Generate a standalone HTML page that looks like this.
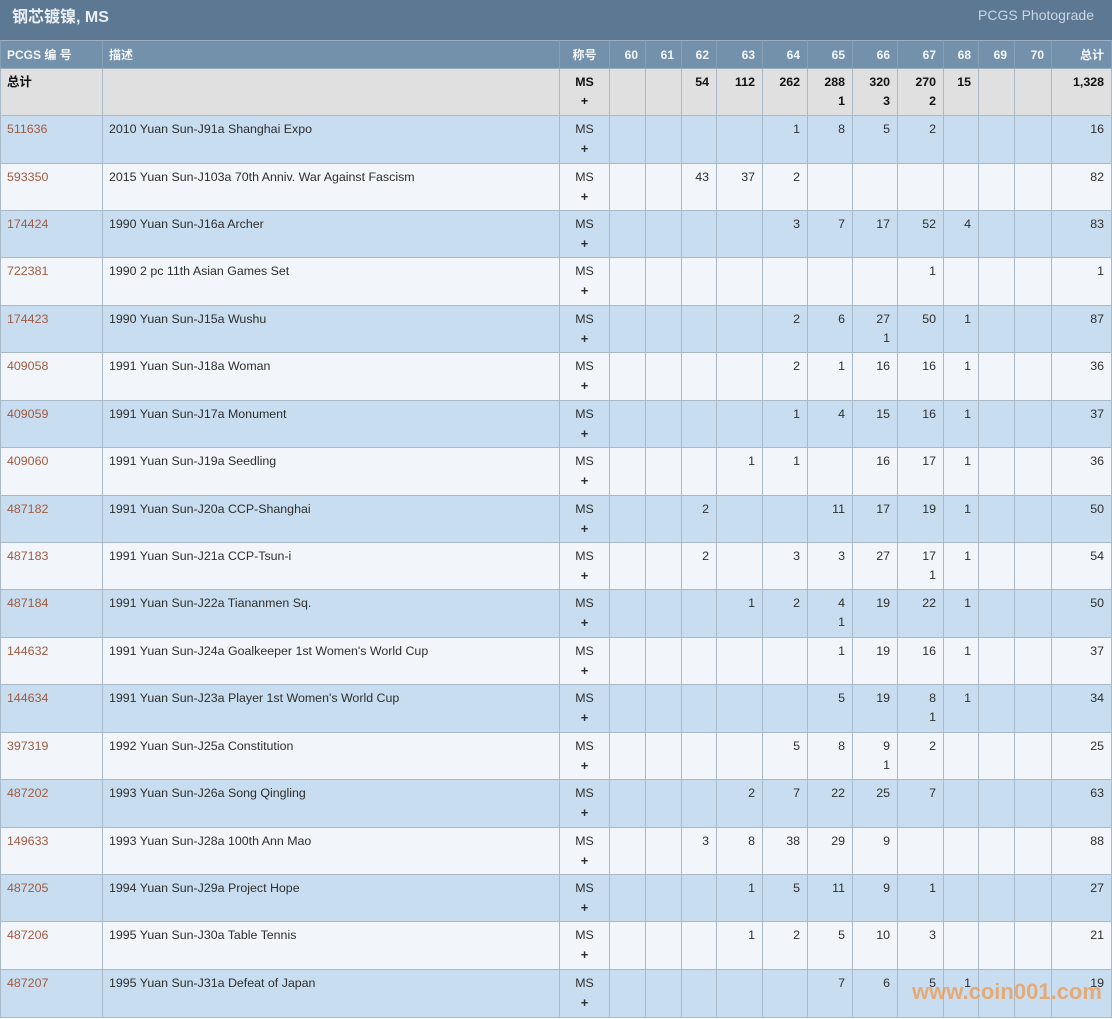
<!DOCTYPE html>
<html><head><meta charset="utf-8">
<style>
html,body{margin:0;padding:0;}
body{width:1112px;height:1019px;overflow:hidden;background:#fff;position:relative;font-family:"Liberation Sans","Noto Sans CJK SC",sans-serif;}
.bar{position:absolute;left:0;top:0;width:1112px;height:40px;background:#5c7893;}
.title{position:absolute;left:12px;top:7px;font-size:16px;font-weight:bold;color:#e9eff5;line-height:22px;}
.pg{position:absolute;right:18px;top:5px;font-size:14px;color:#c9d7e5;line-height:20px;}
table{position:absolute;left:0;top:40px;border-collapse:separate;border-spacing:0;table-layout:fixed;width:1112px;}
td{box-sizing:border-box;border-right:1px solid #aab9c7;border-bottom:1px solid #aab9c7;padding:4px 7px 0 7px;vertical-align:top;line-height:19px;font-size:12.4px;color:#2e2e2e;text-align:right;overflow:hidden;white-space:nowrap;}
td:first-child{border-left:1px solid #aab9c7;text-align:left;padding-left:6px;}
td.d{text-align:left;padding-left:6px;}
td.c{text-align:center;padding-left:2px;padding-right:2px;}
tr.h td{background:#7491ab;color:#f2f6f9;font-weight:bold;font-size:12px;border-top:1px solid #9bb0c3;border-right-color:#86a0b6;border-bottom-color:#9aadbd;padding-top:5px;}
tr.h td:first-child{border-left-color:#86a0b6;}
tr.t td{background:#e0e0e0;font-weight:bold;color:#111;}
tr.o td{background:#c8def0;}
tr.e td{background:#f2f6fa;}
a{color:#a05a40;text-decoration:none;}
.wm{position:absolute;left:912px;top:978px;font-size:22px;font-weight:bold;color:rgba(240,150,70,0.72);line-height:28px;}
b.p{font-weight:bold;font-size:13px;}
</style></head><body>
<div class="bar"><div class="title">钢芯镀镍, MS</div><div class="pg">PCGS Photograde</div></div>
<table>
<colgroup>
<col style="width:103px"><col style="width:457px"><col style="width:50px"><col style="width:36px"><col style="width:36px"><col style="width:35px"><col style="width:46px"><col style="width:45px"><col style="width:45px"><col style="width:45px"><col style="width:46px"><col style="width:35px"><col style="width:36px"><col style="width:37px"><col style="width:60px">
</colgroup>
<tr class="h" style="height:29px"><td>PCGS 编 号</td><td class="d">描述</td><td class="c">称号</td><td>60</td><td>61</td><td>62</td><td>63</td><td>64</td><td>65</td><td>66</td><td>67</td><td>68</td><td>69</td><td>70</td><td>总计</td></tr>
<tr class="t" style="height:47px"><td>总计</td><td class="d"></td><td class="c">MS<br>+</td><td></td><td></td><td>54</td><td>112</td><td>262</td><td>288<br>1</td><td>320<br>3</td><td>270<br>2</td><td>15</td><td></td><td></td><td>1,328</td></tr>
<tr class="o" style="height:48px"><td><a>511636</a></td><td class="d">2010 Yuan Sun-J91a Shanghai Expo</td><td class="c">MS<br><b class="p">+</b></td><td></td><td></td><td></td><td></td><td>1</td><td>8</td><td>5</td><td>2</td><td></td><td></td><td></td><td>16</td></tr>
<tr class="e" style="height:47px"><td><a>593350</a></td><td class="d">2015 Yuan Sun-J103a 70th Anniv. War Against Fascism</td><td class="c">MS<br><b class="p">+</b></td><td></td><td></td><td>43</td><td>37</td><td>2</td><td></td><td></td><td></td><td></td><td></td><td></td><td>82</td></tr>
<tr class="o" style="height:47px"><td><a>174424</a></td><td class="d">1990 Yuan Sun-J16a Archer</td><td class="c">MS<br><b class="p">+</b></td><td></td><td></td><td></td><td></td><td>3</td><td>7</td><td>17</td><td>52</td><td>4</td><td></td><td></td><td>83</td></tr>
<tr class="e" style="height:48px"><td><a>722381</a></td><td class="d">1990 2 pc 11th Asian Games Set</td><td class="c">MS<br><b class="p">+</b></td><td></td><td></td><td></td><td></td><td></td><td></td><td></td><td>1</td><td></td><td></td><td></td><td>1</td></tr>
<tr class="o" style="height:47px"><td><a>174423</a></td><td class="d">1990 Yuan Sun-J15a Wushu</td><td class="c">MS<br><b class="p">+</b></td><td></td><td></td><td></td><td></td><td>2</td><td>6</td><td>27<br>1</td><td>50</td><td>1</td><td></td><td></td><td>87</td></tr>
<tr class="e" style="height:48px"><td><a>409058</a></td><td class="d">1991 Yuan Sun-J18a Woman</td><td class="c">MS<br><b class="p">+</b></td><td></td><td></td><td></td><td></td><td>2</td><td>1</td><td>16</td><td>16</td><td>1</td><td></td><td></td><td>36</td></tr>
<tr class="o" style="height:47px"><td><a>409059</a></td><td class="d">1991 Yuan Sun-J17a Monument</td><td class="c">MS<br><b class="p">+</b></td><td></td><td></td><td></td><td></td><td>1</td><td>4</td><td>15</td><td>16</td><td>1</td><td></td><td></td><td>37</td></tr>
<tr class="e" style="height:48px"><td><a>409060</a></td><td class="d">1991 Yuan Sun-J19a Seedling</td><td class="c">MS<br><b class="p">+</b></td><td></td><td></td><td></td><td>1</td><td>1</td><td></td><td>16</td><td>17</td><td>1</td><td></td><td></td><td>36</td></tr>
<tr class="o" style="height:47px"><td><a>487182</a></td><td class="d">1991 Yuan Sun-J20a CCP-Shanghai</td><td class="c">MS<br><b class="p">+</b></td><td></td><td></td><td>2</td><td></td><td></td><td>11</td><td>17</td><td>19</td><td>1</td><td></td><td></td><td>50</td></tr>
<tr class="e" style="height:47px"><td><a>487183</a></td><td class="d">1991 Yuan Sun-J21a CCP-Tsun-i</td><td class="c">MS<br><b class="p">+</b></td><td></td><td></td><td>2</td><td></td><td>3</td><td>3</td><td>27</td><td>17<br>1</td><td>1</td><td></td><td></td><td>54</td></tr>
<tr class="o" style="height:48px"><td><a>487184</a></td><td class="d">1991 Yuan Sun-J22a Tiananmen Sq.</td><td class="c">MS<br><b class="p">+</b></td><td></td><td></td><td></td><td>1</td><td>2</td><td>4<br>1</td><td>19</td><td>22</td><td>1</td><td></td><td></td><td>50</td></tr>
<tr class="e" style="height:47px"><td><a>144632</a></td><td class="d">1991 Yuan Sun-J24a Goalkeeper 1st Women's World Cup</td><td class="c">MS<br><b class="p">+</b></td><td></td><td></td><td></td><td></td><td></td><td>1</td><td>19</td><td>16</td><td>1</td><td></td><td></td><td>37</td></tr>
<tr class="o" style="height:48px"><td><a>144634</a></td><td class="d">1991 Yuan Sun-J23a Player 1st Women's World Cup</td><td class="c">MS<br><b class="p">+</b></td><td></td><td></td><td></td><td></td><td></td><td>5</td><td>19</td><td>8<br>1</td><td>1</td><td></td><td></td><td>34</td></tr>
<tr class="e" style="height:47px"><td><a>397319</a></td><td class="d">1992 Yuan Sun-J25a Constitution</td><td class="c">MS<br><b class="p">+</b></td><td></td><td></td><td></td><td></td><td>5</td><td>8</td><td>9<br>1</td><td>2</td><td></td><td></td><td></td><td>25</td></tr>
<tr class="o" style="height:48px"><td><a>487202</a></td><td class="d">1993 Yuan Sun-J26a Song Qingling</td><td class="c">MS<br><b class="p">+</b></td><td></td><td></td><td></td><td>2</td><td>7</td><td>22</td><td>25</td><td>7</td><td></td><td></td><td></td><td>63</td></tr>
<tr class="e" style="height:47px"><td><a>149633</a></td><td class="d">1993 Yuan Sun-J28a 100th Ann Mao</td><td class="c">MS<br><b class="p">+</b></td><td></td><td></td><td>3</td><td>8</td><td>38</td><td>29</td><td>9</td><td></td><td></td><td></td><td></td><td>88</td></tr>
<tr class="o" style="height:47px"><td><a>487205</a></td><td class="d">1994 Yuan Sun-J29a Project Hope</td><td class="c">MS<br><b class="p">+</b></td><td></td><td></td><td></td><td>1</td><td>5</td><td>11</td><td>9</td><td>1</td><td></td><td></td><td></td><td>27</td></tr>
<tr class="e" style="height:48px"><td><a>487206</a></td><td class="d">1995 Yuan Sun-J30a Table Tennis</td><td class="c">MS<br><b class="p">+</b></td><td></td><td></td><td></td><td>1</td><td>2</td><td>5</td><td>10</td><td>3</td><td></td><td></td><td></td><td>21</td></tr>
<tr class="o" style="height:48px"><td><a>487207</a></td><td class="d">1995 Yuan Sun-J31a Defeat of Japan</td><td class="c">MS<br><b class="p">+</b></td><td></td><td></td><td></td><td></td><td></td><td>7</td><td>6</td><td>5</td><td>1</td><td></td><td></td><td>19</td></tr>
</table>
<div class="wm">www.coin001.com</div>
</body></html>
